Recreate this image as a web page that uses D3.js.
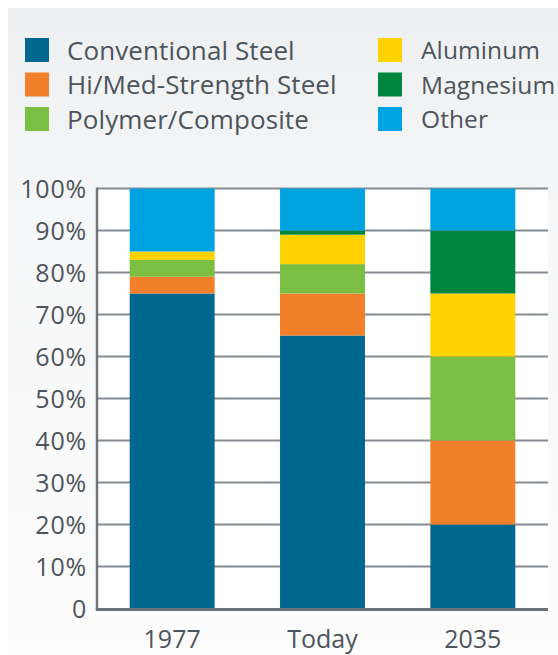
<!DOCTYPE html>
<html>
<head>
<meta charset="utf-8">
<script src="https://cdn.jsdelivr.net/npm/d3@7"></script>
<style>
  html, body { margin: 0; padding: 0; background: #ffffff; }
  svg { display: block; }
  text { font-family: "Open Sans", sans-serif; fill: #4e545b; }
</style>
</head>
<body>
<svg id="chart" width="558" height="655"></svg>
<script>
// ---- data ----
const categories = ["1977", "Today", "2035"];
const seriesNames = ["Conventional Steel", "Hi/Med-Strength Steel", "Polymer/Composite", "Aluminum", "Magnesium", "Other"];
const conventionalSteel = [75, 65, 20];
const hiMedSteel        = [4, 10, 20];
const polymerComposite  = [4, 7, 20];
const aluminum          = [2, 7, 15];
const magnesium         = [0, 1, 15];
const other             = [15, 10, 10];
const yTicks = [0, 10, 20, 30, 40, 50, 60, 70, 80, 90, 100];
const yTickLabels = ["0", "10%", "20%", "30%", "40%", "50%", "60%", "70%", "80%", "90%", "100%"];
const colors = ["#006790", "#f27f29", "#7bbf42", "#ffd200", "#00853f", "#00a3e1"];

const seriesValues = [conventionalSteel, hiMedSteel, polymerComposite, aluminum, magnesium, other];
const rows = categories.map((c, i) => {
  const r = { cat: c };
  seriesNames.forEach((s, j) => r[s] = seriesValues[j][i]);
  return r;
});

const svg = d3.select("#chart");
const W = 558, H = 655;

// background panel
const defs = svg.append("defs");
const grad = defs.append("linearGradient").attr("id", "bg").attr("x1", 0).attr("y1", 0).attr("x2", 0).attr("y2", 1);
grad.append("stop").attr("offset", "0%").attr("stop-color", "#edeff1");
grad.append("stop").attr("offset", "35%").attr("stop-color", "#f6f7f8");
grad.append("stop").attr("offset", "100%").attr("stop-color", "#fcfcfc");
svg.append("rect").attr("x", 8).attr("y", 8).attr("width", W - 8).attr("height", H - 8).attr("fill", "url(#bg)");

// scales
const plotL = 97, plotR = 548, plotT = 188.5, plotB = 608.5;
const x = d3.scaleBand().domain(categories).range([plotL, plotR]).paddingInner(0.435).paddingOuter(0.2175);
const y = d3.scaleLinear().domain([0, 100]).range([plotB, plotT]);

// white plot area
svg.append("rect").attr("x", plotL).attr("y", plotT).attr("width", plotR - plotL).attr("height", plotB - plotT).attr("fill", "#ffffff");

// gridlines
svg.append("g").selectAll("line").data(yTicks.filter(t => t > 0)).join("line")
  .attr("x1", plotL).attr("x2", plotR)
  .attr("y1", d => y(d)).attr("y2", d => y(d))
  .attr("stroke", "#858b91").attr("stroke-width", 2);

// stacked bars
const stack = d3.stack().keys(seriesNames)(rows);
svg.append("g").selectAll("g").data(stack).join("g")
  .attr("fill", (d, i) => colors[i])
  .selectAll("rect").data(d => d).join("rect")
  .attr("x", d => x(d.data.cat))
  .attr("width", x.bandwidth())
  .attr("y", d => y(d[1]))
  .attr("height", d => y(d[0]) - y(d[1]));

// y axis
const yAxis = d3.axisLeft(y).tickValues(yTicks).tickFormat((d, i) => yTickLabels[i]).tickSize(0).tickPadding(10);
const gy = svg.append("g").attr("transform", `translate(${plotL},0)`).call(yAxis);
gy.select(".domain").remove();
gy.selectAll("text").style("font-size", "25px").attr("dy", "0.36em").attr("fill", "#4e545b").style("letter-spacing", "0.8px");
svg.append("line").attr("x1", plotL).attr("x2", plotL).attr("y1", plotT - 1).attr("y2", plotB + 1.5)
  .attr("stroke", "#6f767c").attr("stroke-width", 2.5);

// x axis
const xAxis = d3.axisBottom(x).tickSize(0);
const gx = svg.append("g").attr("transform", `translate(0,${plotB})`).call(xAxis);
gx.select(".domain").remove();
gx.selectAll("text").style("font-size", "25px").attr("y", 39.5).attr("dy", "0").attr("fill", "#4e545b");
svg.append("line").attr("x1", plotL - 1.2).attr("x2", plotR).attr("y1", plotB + 1).attr("y2", plotB + 1)
  .attr("stroke", "#6b7278").attr("stroke-width", 3);

// legend
const legendCols = [{ x: 25, tx: 67, fs: 26 }, { x: 378, tx: 421, fs: 24.5 }];
const legend = svg.append("g");
seriesNames.forEach((name, i) => {
  const col = legendCols[Math.floor(i / 3)];
  const row = i % 3;
  const cy = 50.5 + row * 34.5;
  legend.append("rect").attr("x", col.x).attr("y", cy - 12.5).attr("width", 24).attr("height", 24).attr("fill", colors[i]);
  legend.append("text").attr("x", col.tx).attr("y", cy).attr("dy", "0.36em")
    .style("font-size", col.fs + "px").style("letter-spacing", "0.1px").text(name);
});
</script>
</body>
</html>
